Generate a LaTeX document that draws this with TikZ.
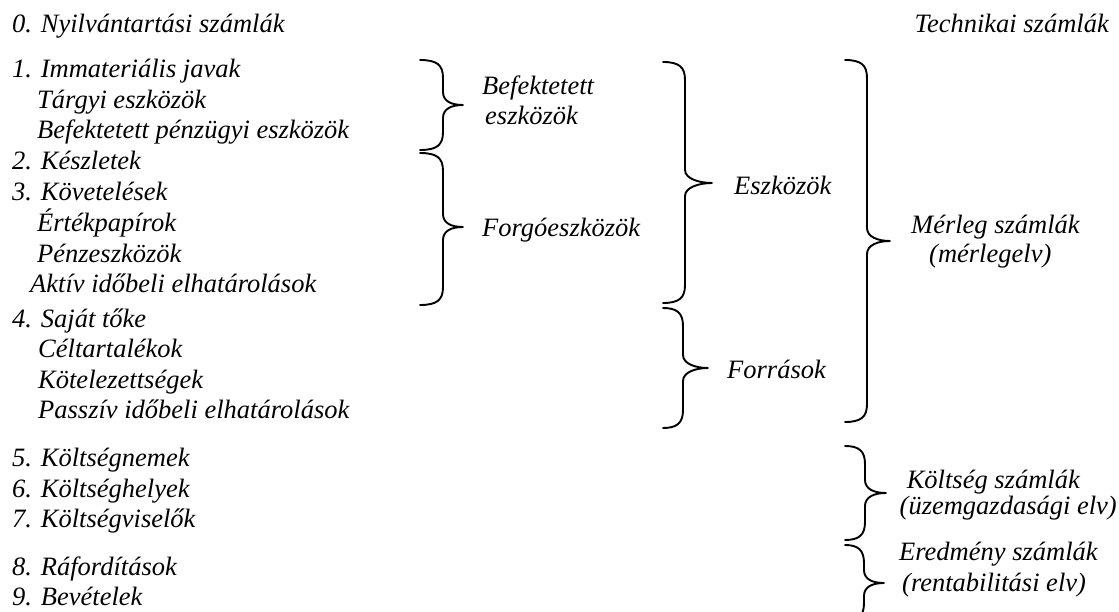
\documentclass[tikz,border=0pt]{standalone}
\usepackage{fontspec}
\setmainfont{Liberation Serif}
\begin{document}
\begin{tikzpicture}[x=1pt,y=-1pt,
  lbl/.style={anchor=base west,inner sep=0pt,font=\fontsize{26.5}{31}\selectfont\itshape},
  lble/.style={anchor=base east,inner sep=0pt,font=\fontsize{26.5}{31}\selectfont\itshape},
  brc/.style={line width=1.9pt,line cap=round,line join=round}]
\useasboundingbox (0,0) rectangle (1119,612);
\clip (0,0) rectangle (1119,612);
% brace: #1 xl, #2 xv, #3 xt, #4 top, #5 tip, #6 bottom
\newcommand\mybrace[6]{%
  \draw[brc] (#1,#4) .. controls ({#2-6},#4) and (#2,{#4+5}) .. (#2,{#4+18})
    -- (#2,{#5-13}) .. controls (#2,{#5-4}) and ({#3-12},#5) .. (#3,#5)
    .. controls ({#3-12},#5) and (#2,{#5+4}) .. (#2,{#5+13})
    -- (#2,{#6-18}) .. controls (#2,{#6-5}) and ({#2-6},#6) .. (#1,#6);}
% headers
\node[lbl]  (h0) at (12,33) {0. Nyilvántartási számlák};
\node[lble] (ht) at (1109,33) {Technikai számlák};
% left column
\node[lbl] (a1) at (12,78)    {1. Immateriális javak};
\node[lbl] (a2) at (37,108.5) {Tárgyi eszközök};
\node[lbl] (a3) at (37,139)   {Befektetett pénzügyi eszközök};
\node[lbl] (a4) at (12,170)   {2. Készletek};
\node[lbl] (a5) at (12,201)   {3. Követelések};
\node[lbl] (a6) at (37,232)   {Értékpapírok};
\node[lbl] (a7) at (37,262.5) {Pénzeszközök};
\node[lbl] (a8) at (30,293)   {Aktív időbeli elhatárolások};
\node[lbl] (b1) at (12,327)   {4. Saját tőke};
\node[lbl] (b2) at (38,357)   {Céltartalékok};
\node[lbl] (b3) at (38,388)   {Kötelezettségek};
\node[lbl] (b4) at (38,418)   {Passzív időbeli elhatárolások};
\node[lbl] (c1) at (12,466)   {5. Költségnemek};
\node[lbl] (c2) at (12,497)   {6. Költséghelyek};
\node[lbl] (c3) at (12,527)   {7. Költségviselők};
\node[lbl] (d1) at (12,575)   {8. Ráfordítások};
\node[lbl] (d2) at (12,605)   {9. Bevételek};
% braces
\mybrace{420}{443}{463}{60}{105}{150}
\mybrace{420}{443}{463}{153}{227}{305}
\mybrace{663}{685}{712}{62}{183}{303}
\mybrace{663}{683}{708}{308}{368}{428}
\mybrace{845}{867}{890}{60}{241}{422}
\mybrace{845}{865}{886}{446}{493}{540}
\mybrace{845}{864}{884}{545}{583}{621}
% group labels
\node[lbl] (g1) at (482,95)  {Befektetett};
\node[lbl] (g1b) at (485,125) {eszközök};
\node[lbl] (g2) at (482,237) {Forgóeszközök};
\node[lbl] (g3) at (734,195) {Eszközök};
\node[lbl] (g4) at (727,378) {Források};
\node[lbl] (g5) at (911,234) {Mérleg számlák};
\node[lbl] (g5b) at (929,263) {(mérlegelv)};
\node[lble] (g6) at (1080,488) {Költség számlák};
\node[lble] (g6b) at (1117,514) {(üzemgazdasági elv)};
\node[lbl] (g7) at (899,560) {Eredmény számlák};
\node[lbl] (g7b) at (902,591) {(rentabilitási elv)};
\end{tikzpicture}
\end{document}
